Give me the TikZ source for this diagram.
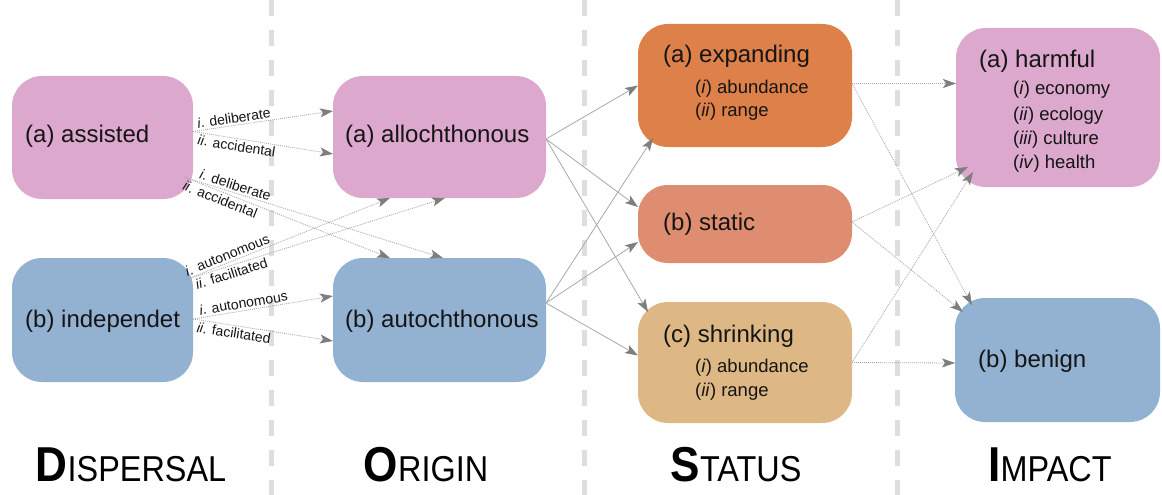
\documentclass[tikz,border=0pt]{standalone}
\usepackage{fontspec}
\usepackage{graphicx}
\setmainfont{Liberation Sans}
\usetikzlibrary{arrows.meta,calc}

\definecolor{boxpink}{HTML}{DCA8CD}
\definecolor{boxblue}{HTML}{93B1D0}
\definecolor{boxexp}{HTML}{DE804A}
\definecolor{boxstat}{HTML}{DF8D70}
\definecolor{boxshr}{HTML}{DEB884}
\definecolor{linkgray}{HTML}{A8A8A8}
\definecolor{headgray}{HTML}{7E7E7E}
\definecolor{sepgray}{HTML}{DEDEDE}
\definecolor{ink}{HTML}{151515}

\newcommand{\mainsize}{\fontsize{24}{28}\selectfont}
\newcommand{\subsize}{\fontsize{18.5}{22}\selectfont}
\newcommand{\linksize}{\fontsize{14}{16}\selectfont}
\newcommand{\coltitle}[2]{\scalebox{0.9}[1]{\fontsize{49}{50}\selectfont\bfseries #1\fontsize{36}{40}\selectfont\mdseries #2}}

\begin{document}
\begin{tikzpicture}[x=1pt,y=-1pt,
  panel/.style n args={3}{fill=#1, draw=none, rounded corners=30pt,
    inner sep=0pt, outer sep=0pt, minimum width=#2pt, minimum height=#3pt},
  head/.style={anchor=base west, inner sep=0pt, text=ink, font=\mainsize},
  item/.style={anchor=base west, inner sep=0pt, text=ink, font=\subsize},
  link/.style={draw=linkgray, line width=0.8pt,
    -{Stealth[length=13pt,width=9pt,inset=3pt,color=headgray]}},
  dotlink/.style={link, dash pattern=on 1pt off 1pt},
  tag/.style={font=\linksize, text=ink, sloped, inner sep=2pt},
  sepline/.style={draw=sepgray, line width=5pt, dash pattern=on 16pt off 14pt},
  title/.style={anchor=base, inner sep=0pt, text=black}
]
\useasboundingbox (0,0) rectangle (1162,495);

% column separators
\draw[sepline] (271,0) -- (271,495);
\draw[sepline] (584,0) -- (584,495);
\draw[sepline] (897,0) -- (897,495);

% dispersal
\node[panel={boxpink}{181}{123}] (as) at (102.5,137.5) {};
\node[panel={boxblue}{181}{124}] (in) at (102.5,320) {};
% origin
\node[panel={boxpink}{213}{122}] (al) at (439.5,137) {};
\node[panel={boxblue}{213}{124}] (au) at (439.5,320) {};
% status
\node[panel={boxexp}{214}{123}] (ex) at (745,85.5) {};
\node[panel={boxstat}{214}{78}] (st) at (745,224) {};
\node[panel={boxshr}{214}{121}] (sh) at (745,362.5) {};
% impact
\node[panel={boxpink}{204}{159}] (ha) at (1058,107.5) {};
\node[panel={boxblue}{205}{124}] (be) at (1057.5,360) {};

% box texts
\node[head] (asT) at (25,142) {(a) assisted};
\node[head] (inT) at (25,327) {(b) independet};
\node[head] (alT) at (345,142) {(a) allochthonous};
\node[head] (auT) at (345,327) {(b) autochthonous};

\node[head] (exT) at (663,63) {(a) expanding};
\node[item] (exA) at (695,93) {(\textit{i}) abundance};
\node[item] (exB) at (695,117) {(\textit{ii}) range};

\node[head] (stT) at (663,230) {(b) static};

\node[head] (shT) at (663,342) {(c) shrinking};
\node[item] (shA) at (695,372) {(\textit{i}) abundance};
\node[item] (shB) at (695,396) {(\textit{ii}) range};

\node[head] (haT) at (979,67) {(a) harmful};
\node[item] (haA) at (1013,95) {(\textit{i}) economy};
\node[item] (haB) at (1013,120) {(\textit{ii}) ecology};
\node[item] (haC) at (1013,144) {(\textit{iii}) culture};
\node[item] (haD) at (1013,168) {(\textit{iv}) health};

\node[head] (beT) at (978,367) {(b) benign};

% dispersal -> origin
\coordinate (asR) at ($(as.east)+(0,-6)$);
\coordinate (asD) at ($(as.south east)+(-9,-22)$);
\coordinate (inU) at ($(in.north east)+(-8,22)$);
\coordinate (inR) at ($(in.east)+(0,-1)$);

\draw[dotlink] (asR) -- node[tag, above, pos=0.3] {\textit{i}. deliberate} ($(al.west)+(0,-26)$);
\draw[dotlink] (asR) -- node[tag, below, pos=0.32] {\textit{ii}. accidental} ($(al.west)+(0,17)$);
\draw[dotlink] (asD) -- node[tag, above, pos=0.19] {\textit{i}. deliberate} ($(au.north)+(3.5,0)$);
\draw[dotlink] (asD) -- node[tag, below, pos=0.19] {\textit{ii}. accidental} ($(au.north)+(-49.5,0)$);
\draw[dotlink] (inU) -- node[tag, above, pos=0.22] {\textit{i}. autonomous} ($(al.south)+(-49.5,0)$);
\draw[dotlink] (inU) -- node[tag, below, pos=0.17] {\textit{ii}. facilitated} ($(al.south)+(5.5,0)$);
\draw[dotlink] (inR) -- node[tag, above, pos=0.37] {\textit{i}. autonomous} ($(au.west)+(0,-24)$);
\draw[dotlink] (inR) -- node[tag, below, pos=0.3] {\textit{ii}. facilitated} ($(au.west)+(0,21)$);

% origin -> status
\coordinate (alR) at ($(al.east)+(0,2)$);
\coordinate (auR) at ($(au.east)+(0,-17)$);
\draw[link] (alR) -- (ex.west);
\draw[link] (alR) -- ($(st.west)+(0,-17)$);
\draw[link] (alR) -- ($(sh.north west)+(10,10)$);
\draw[link] (auR) -- ($(ex.south west)+(15,-9)$);
\draw[link] (auR) -- ($(st.west)+(0,18)$);
\draw[link] (auR) -- ($(sh.west)+(0,-7)$);

% status -> impact
\coordinate (exR) at ($(ex.east)+(0,-2)$);
\coordinate (stR) at ($(st.east)+(0,-2)$);
\coordinate (shR) at (sh.east);
\draw[dotlink] (exR) -- ($(ha.west)+(0,-24)$);
\draw[dotlink] (exR) -- ($(be.north west)+(17,7)$);
\draw[dotlink] (stR) -- ($(ha.south west)+(12,-20)$);
\draw[dotlink] (stR) -- ($(be.north west)+(8,14)$);
\draw[dotlink] (shR) -- ($(ha.south west)+(17,-15)$);
\draw[dotlink] (shR) -- ($(be.west)+(0,3)$);

% column titles
\node[title] (tD) at (131,481) {\coltitle{D}{ISPERSAL}};
\node[title] (tO) at (426,481) {\coltitle{O}{RIGIN}};
\node[title] (tS) at (736,481) {\coltitle{S}{TATUS}};
\node[title] (tI) at (1050,481) {\coltitle{I}{MPACT}};
\end{tikzpicture}
\end{document}
